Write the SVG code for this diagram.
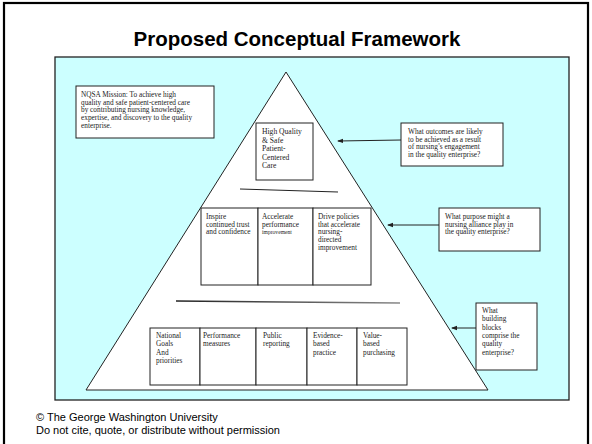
<svg xmlns="http://www.w3.org/2000/svg" width="592" height="444" viewBox="0 0 592 444">
<style>
.t{font-family:"Liberation Serif","Times New Roman",serif;font-size:7.3px;fill:#222}
.box{fill:#fff;stroke:#222;stroke-width:1}
.ln{stroke:#222;stroke-width:1;fill:none}
</style>
<defs>
<marker id="ah" markerWidth="6" markerHeight="6" refX="5" refY="3" orient="auto" markerUnits="userSpaceOnUse">
<path d="M0,0.8 L6,3 L0,5.2 Z" fill="#222"/>
</marker>
<linearGradient id="g1" x1="0" x2="1" y1="0" y2="0">
<stop offset="0" stop-color="#222"/><stop offset="1" stop-color="#888"/>
</linearGradient>
</defs>
<rect x="0" y="0" width="592" height="444" fill="#fff"/>
<rect x="4" y="3" width="584" height="460" fill="none" stroke="#000" stroke-width="2.2"/>
<text x="297" y="46" text-anchor="middle" style="font-family:'Liberation Sans',Arial,sans-serif;font-weight:bold;font-size:20.5px" fill="#000">Proposed Conceptual Framework</text>
<g id="background"><rect x="55" y="57" width="514" height="343" fill="#ccffff" stroke="#222" stroke-width="1.3"/></g>
<g id="pyramid"><path d="M286,72 L86,390 L488,390 Z" fill="#fff" stroke="#222" stroke-width="1"/></g>
<g id="connectors">
<line class="ln" x1="240" y1="189" x2="338" y2="192"/>
<line x1="176" y1="301" x2="400" y2="303" stroke="url(#g1)" stroke-width="1.5"/>
<line class="ln" x1="401" y1="140" x2="338" y2="141" marker-end="url(#ah)"/>
<line class="ln" x1="439" y1="225" x2="388" y2="225" marker-end="url(#ah)"/>
<line class="ln" x1="476" y1="328" x2="452" y2="328" marker-end="url(#ah)"/>
</g>
<g id="mission">
<rect class="box" x="76" y="86" width="138" height="52"/>
<text class="t" x="81"><tspan x="81" y="97">NQSA Mission: To achieve high</tspan><tspan x="81" y="104.7">quality and safe patient-centered care</tspan><tspan x="81" y="112.4">by contributing nursing knowledge,</tspan><tspan x="81" y="120.1">expertise, and discovery to the quality</tspan><tspan x="81" y="127.8">enterprise.</tspan></text>
</g>
<g id="apex">
<rect class="box" x="256" y="123" width="57" height="57"/>
<text class="t" style="font-size:7.6px"><tspan x="262" y="134">High Quality</tspan><tspan x="262" y="142.5">&amp; Safe</tspan><tspan x="262" y="151">Patient-</tspan><tspan x="262" y="159.5">Centered</tspan><tspan x="262" y="168">Care</tspan></text>
</g>
<g id="q-outcomes">
<rect class="box" x="401" y="123" width="102" height="43"/>
<text class="t"><tspan x="408" y="134">What outcomes are  likely</tspan><tspan x="408" y="141.7">to be achieved as a result</tspan><tspan x="408" y="149.4">of  nursing’s engagement</tspan><tspan x="408" y="157.1">in the quality enterprise?</tspan></text>
</g>
<g id="middle">
<rect class="box" x="201" y="208" width="57" height="77"/>
<rect class="box" x="258" y="208" width="55" height="77"/>
<rect class="box" x="313" y="208" width="58" height="77"/>
<text class="t"><tspan x="206" y="219">Inspire</tspan><tspan x="206" y="226.7">continued trust</tspan><tspan x="206" y="234.4">and confidence</tspan></text>
<text class="t"><tspan x="262" y="219">Accelerate</tspan><tspan x="262" y="226.7">performance</tspan><tspan x="262" y="234" style="font-size:5.6px">improvement</tspan></text>
<text class="t"><tspan x="318" y="219">Drive policies</tspan><tspan x="318" y="226.7">that accelerate</tspan><tspan x="318" y="234.4">nursing-</tspan><tspan x="318" y="242.1">directed</tspan><tspan x="318" y="249.8">improvement</tspan></text>
</g>
<g id="q-purpose">
<rect class="box" x="439" y="208" width="101" height="43"/>
<text class="t"><tspan x="445" y="219">What purpose might a</tspan><tspan x="445" y="226.7">nursing alliance play in</tspan><tspan x="445" y="234.4">the quality enterprise?</tspan></text>
</g>
<g id="bottom">
<rect class="box" x="150" y="328" width="50" height="57"/>
<rect class="box" x="200" y="328" width="56" height="57"/>
<rect class="box" x="256" y="328" width="51" height="57"/>
<rect class="box" x="307" y="328" width="50" height="57"/>
<rect class="box" x="357" y="328" width="50" height="57"/>
<text class="t"><tspan x="156" y="337.5">National</tspan><tspan x="156" y="346">Goals</tspan><tspan x="156" y="354.5">And</tspan><tspan x="156" y="363">priorities</tspan></text>
<text class="t"><tspan x="203" y="337.5">Performance</tspan><tspan x="203" y="346">measures</tspan></text>
<text class="t"><tspan x="263" y="337.5">Public</tspan><tspan x="263" y="346">reporting</tspan></text>
<text class="t"><tspan x="313" y="337.5">Evidence-</tspan><tspan x="313" y="346">based</tspan><tspan x="313" y="354.5">practice</tspan></text>
<text class="t"><tspan x="363" y="337.5">Value-</tspan><tspan x="363" y="346">based</tspan><tspan x="363" y="354.5">purchasing</tspan></text>
</g>
<g id="q-blocks">
<rect class="box" x="476" y="303" width="61" height="67"/>
<text class="t"><tspan x="482" y="313">What</tspan><tspan x="482" y="321.3">building</tspan><tspan x="482" y="329.6">blocks</tspan><tspan x="482" y="337.9">comprise the</tspan><tspan x="482" y="346.2">quality</tspan><tspan x="482" y="354.5">enterprise?</tspan></text>
</g>
<text x="36" y="421" style="font-family:'Liberation Sans',Arial,sans-serif;font-size:11px" fill="#000"><tspan x="36" y="421">© The George Washington University</tspan><tspan x="36" y="434">Do not cite, quote, or distribute without permission</tspan></text>
</svg>
